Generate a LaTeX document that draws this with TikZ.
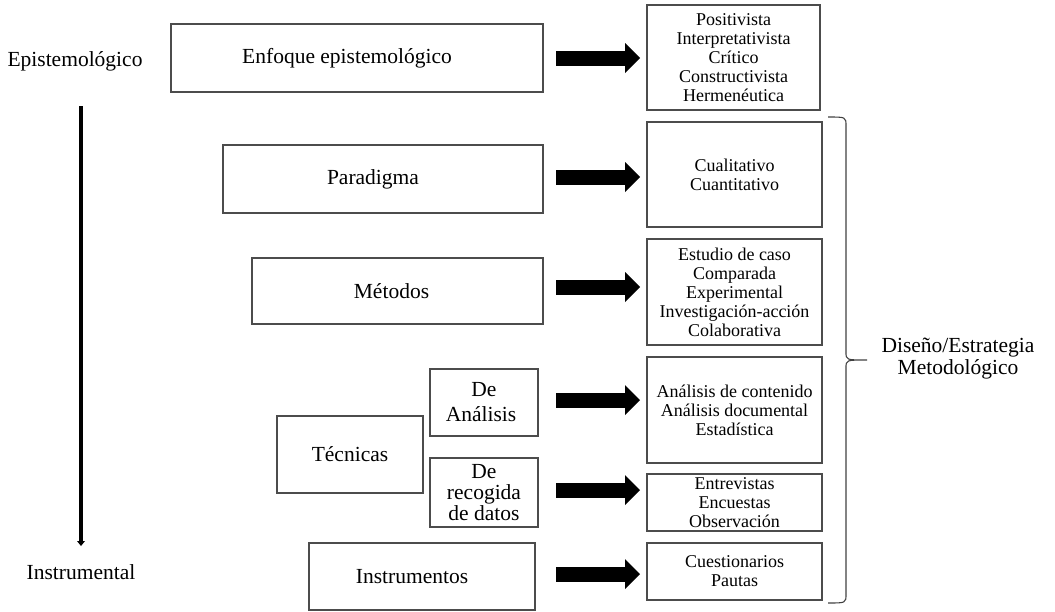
\documentclass[tikz,border=0pt]{standalone}
\usepackage{fontspec}
\setmainfont{Liberation Serif}
\usetikzlibrary{arrows.meta,calc}
\begin{document}
\begin{tikzpicture}[x=1pt,y=-1pt,
  box/.style={draw=black!70, line width=1.2pt, inner sep=0pt, outer sep=0pt, align=center},
  big/.style={font=\fontsize{21.5}{25}\selectfont},
  small/.style={font=\fontsize{18}{19}\selectfont},
  fat/.style={line width=15pt, -{Triangle[length=15pt,width=30pt,line width=0pt]}, shorten >=7pt},
  brace/.style={draw=black!75, line width=1.1pt},
  lbl/.style={inner sep=0pt, align=center, font=\fontsize{21.5}{22}\selectfont}]
\useasboundingbox (0,0) rectangle (1055,611);
% left boxes
\node[box,big,minimum width=372pt,minimum height=68pt] (E) at (357,58) {Enfoque epistemológico\hspace*{20pt}};
\node[box,big,minimum width=320pt,minimum height=68pt] (P) at (383,179) {Paradigma\hspace*{20pt}};
\node[box,big,minimum width=291pt,minimum height=66pt] (M) at (397.5,291) {Métodos\hspace*{12pt}};
\node[box,big,minimum width=146pt,minimum height=77pt] (T) at (350,454.5) {Técnicas};
\node[box,big,minimum width=108pt,minimum height=67pt] (DA) at (484,402.5) {De\\Análisis\hspace*{6pt}};
\node[box,font=\fontsize{21.5}{21}\selectfont,minimum width=108pt,minimum height=69pt] (DR) at (484,492.5) {De\\recogida\\de datos};
\node[box,big,minimum width=226pt,minimum height=67pt] (I) at (422,576.5) {Instrumentos\hspace*{20pt}};
% right boxes
\node[box,small,minimum width=173pt,minimum height=105pt] (R1) at (733.5,57.5) {Positivista\\Interpretativista\\Crítico\\Constructivista\\Hermenéutica};
\node[box,small,minimum width=175pt,minimum height=105pt] (R2) at (734.5,174.5) {Cualitativo\\Cuantitativo};
\node[box,small,minimum width=175pt,minimum height=106pt] (R3) at (734.5,292) {Estudio de caso\\Comparada\\Experimental\\Investigación-acción\\Colaborativa};
\node[box,small,minimum width=175pt,minimum height=106pt] (R4) at (734.5,410) {Análisis de contenido\\Análisis documental\\Estadística};
\node[box,small,minimum width=175pt,minimum height=57pt] (R5) at (734.5,502.5) {Entrevistas\\Encuestas\\Observación};
\node[box,small,minimum width=175pt,minimum height=57pt] (R6) at (734.5,571.5) {Cuestionarios\\Pautas};
% side labels
\node[lbl] (epi) at (75,61) {Epistemológico};
\node[lbl] (ins) at (81,572) {Instrumental};
\node[lbl] (dis) at (958,359) {Diseño/Estrategia\\Metodológico};
% block arrows
\coordinate (ax) at (556,0);
\draw[fat] (E.east -| ax) -- (E.east -| R1.west);
\draw[fat] ([yshift=2pt]P.east -| ax) -- ([yshift=2pt]P.east -| R2.west);
\draw[fat] ([yshift=4pt]M.east -| ax) -- ([yshift=4pt]M.east -| R3.west);
\draw[fat] ([yshift=2.5pt]DA.east -| ax) -- ([yshift=2.5pt]DA.east -| R4.west);
\draw[fat] ([yshift=2.5pt]DR.east -| ax) -- ([yshift=2.5pt]DR.east -| R5.west);
\draw[fat] ([yshift=2.5pt]I.east -| ax) -- ([yshift=2.5pt]I.east -| R6.west);
% vertical arrow
\coordinate (vtop) at (81,106);
\coordinate (vbot) at (81,546);
\draw[line width=3.5pt,-{Triangle[length=5pt,width=8pt,line width=0pt]}] (vtop) -- (vbot);
% brace
\coordinate (bt) at (828,117);
\coordinate (bm) at (867,360);
\coordinate (bb) at (828,603);
\draw[brace] (bt) .. controls (846,117) .. (846,126) -- (846,352) .. controls (846,360) .. (bm)
  (bm) .. controls (846,360) .. (846,368) -- (846,594) .. controls (846,603) .. (bb);
\end{tikzpicture}
\end{document}
